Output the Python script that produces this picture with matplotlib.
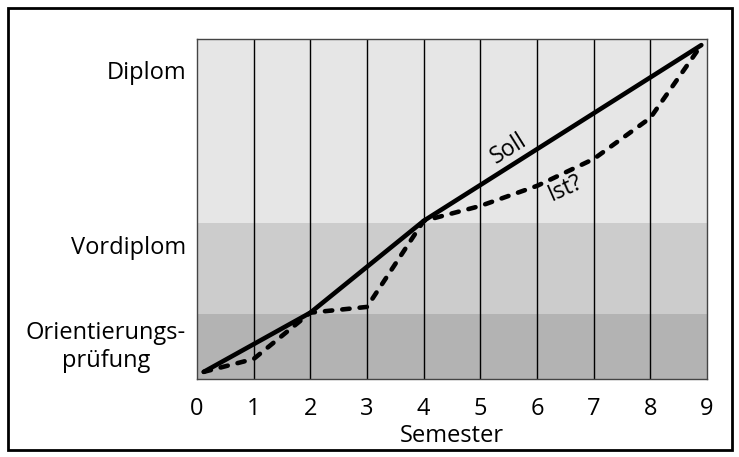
import matplotlib.pyplot as plt
from matplotlib.patches import Rectangle

# data (y in percent of the way to the Diplom)
soll_x = [0.12, 2, 4, 8.9]
soll_y = [2.1, 19.5, 46.5, 98.2]
ist_x = [0.12, 1, 2, 3, 4, 5, 6, 7, 8, 8.9]
ist_y = [2.1, 5.9, 19.5, 21.2, 46.5, 50.9, 56.8, 64.7, 76.8, 98.2]
band_edges = [0, 19, 46, 100]
band_colors = ['#b3b3b3', '#cccccc', '#e6e6e6']
stage_pos = [10.9, 39.4, 90.9]
stage_labels = ['Orientierungs-\nprüfung', 'Vordiplom', 'Diplom']
semesters = list(range(10))

plt.rcParams['font.family'] = ['Open Sans', 'DejaVu Sans']

fig = plt.figure(figsize=(7.39, 4.57), dpi=100)
ax = fig.add_axes([197 / 739, 1 - 379 / 457, 510 / 739, 340 / 457])

for lo, hi, c in zip(band_edges[:-1], band_edges[1:], band_colors):
    ax.axhspan(lo, hi, color=c, lw=0, zorder=0)
for s in semesters[1:-1]:
    ax.axvline(s, color='black', lw=1, zorder=1)

ax.plot(soll_x, soll_y, color='black', lw=3.3, solid_capstyle='round', zorder=3)
ax.plot(ist_x, ist_y, color='black', lw=3.3, dashes=(1.6, 2.2),
        dash_capstyle='round', zorder=3)

ax.text(5.5, 67.8, 'Soll', rotation=32, ha='center', va='center', fontsize=16.5)
ax.text(6.5, 56.2, 'Ist?', rotation=24, ha='center', va='center', fontsize=16.5)

ax.set_xlim(0, 9)
ax.set_ylim(0, 100)
ax.set_xticks(semesters)
ax.set_xticklabels([str(s) for s in semesters], fontsize=17)
ax.set_yticks(stage_pos)
ax.set_yticklabels(stage_labels, fontsize=17, multialignment='center')
ax.tick_params(axis='x', length=0, pad=13)
ax.tick_params(axis='y', length=0, pad=8)
ax.set_xlabel('Semester', fontsize=17, labelpad=2)
for sp in ax.spines.values():
    sp.set_color('#444444')
    sp.set_linewidth(1)

fig.patches.append(Rectangle((8 / 739, 7 / 457), 724 / 739, 442 / 457,
                             transform=fig.transFigure, fill=False,
                             edgecolor='black', lw=2))

fig.savefig('out.png', dpi=100)
